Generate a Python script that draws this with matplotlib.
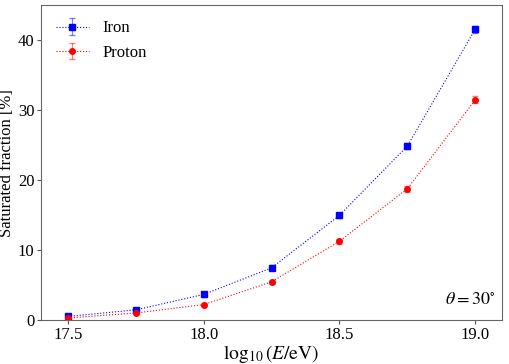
import matplotlib.pyplot as plt
import numpy as np

plt.rcParams['font.family'] = ['Liberation Serif', 'DejaVu Serif']
plt.rcParams['mathtext.fontset'] = 'stix'

log_e = [17.5, 17.75, 18.0, 18.25, 18.5, 18.75, 19.0]
iron = [0.55, 1.5, 3.7, 7.5, 15.0, 24.9, 41.6]
iron_err = [0.2, 0.25, 0.3, 0.35, 0.4, 0.45, 0.5]
proton = [0.33, 1.05, 2.25, 5.5, 11.3, 18.8, 31.5]
proton_err = [0.15, 0.2, 0.25, 0.3, 0.35, 0.45, 0.5]

fig, ax = plt.subplots(figsize=(5.1, 3.64), dpi=100)

ax.errorbar(log_e, iron, yerr=iron_err, color='blue', marker='s', ms=4,
            ls=':', lw=0.8, capsize=2, elinewidth=0.8, ecolor=(0, 0, 1, 0.5),
            label='Iron')
ax.errorbar(log_e, proton, yerr=proton_err, color='red', marker='o', ms=4,
            ls=':', lw=0.8, capsize=2, elinewidth=0.8, ecolor=(1, 0, 0, 0.5),
            label='Proton')

ax.set_xlim(17.4, 19.1)
ax.set_ylim(0, 45)
ax.set_xticks([17.5, 18.0, 18.5, 19.0])
ax.set_xticklabels(['17.5', '18.0', '18.5', '19.0'])
ax.set_yticks([0, 10, 20, 30, 40])
ax.tick_params(labelsize=12, color='#555555', pad=1.5, length=3)
for s in ax.spines.values():
    s.set_color('#666666')

ax.set_xlabel(r'$\log_{10}(E/\mathrm{eV})$', fontsize=14, labelpad=0)
ax.set_ylabel('Saturated fraction [%]', fontsize=12, labelpad=2)
ax.text(0.985, 0.04, r'$\theta = 30^{\circ}$', transform=ax.transAxes,
        ha='right', va='bottom', fontsize=13)
ax.legend(loc='upper left', frameon=False, fontsize=12)

plt.subplots_adjust(left=0.08, right=0.985, top=0.985, bottom=0.12)
plt.savefig('out.png')
